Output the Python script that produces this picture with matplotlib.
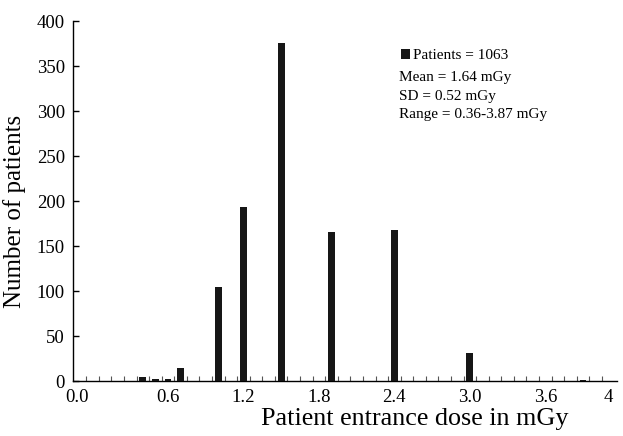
import numpy as np
import matplotlib.pyplot as plt
from matplotlib.ticker import FixedLocator

plt.rcParams['font.family'] = ['Liberation Serif', 'DejaVu Serif']

# dose bins (mGy) and patient counts
dose = [0.4, 0.5, 0.6, 0.7, 1.0, 1.2, 1.5, 1.9, 2.4, 3.0, 3.9]
patients = [4, 2, 2, 15, 105, 193, 376, 166, 168, 31, 1]

tick_pos = [-0.12, 0.6, 1.2, 1.8, 2.4, 3.0, 3.6, 4.1]
tick_labels = ['0.0', '0.6', '1.2', '1.8', '2.4', '3.0', '3.6', '4']
y_ticks = [0, 50, 100, 150, 200, 250, 300, 350, 400]

stats = ['Mean = 1.64 mGy', 'SD = 0.52 mGy', 'Range = 0.36-3.87 mGy']

fig = plt.figure(figsize=(6.23, 4.36), dpi=100)
ax = fig.add_axes([0.1177, 0.1261, 0.8726, 0.8257])

ax.bar(dose, patients, width=0.055, color='#161616', label='Patients = 1063', zorder=3)

ax.set_xlim(-0.153, 4.17)
ax.set_ylim(0, 400)

ax.spines['top'].set_visible(False)
ax.spines['right'].set_visible(False)
ax.spines['left'].set_linewidth(1.0)
ax.spines['bottom'].set_linewidth(1.0)

ax.set_xticks(tick_pos)
ax.set_xticklabels(tick_labels)
ax.xaxis.set_minor_locator(FixedLocator(np.arange(-0.05, 4.1, 0.1)))
ax.tick_params(axis='x', which='major', length=0, labelsize=13.5, pad=6)
ax.tick_params(axis='x', which='minor', direction='in', length=3.5, width=0.8, color='#555555')
ax.set_yticks(y_ticks)
ax.tick_params(axis='y', direction='in', length=4, width=1.0, labelsize=13.5, pad=6)

ax.set_xlabel('Patient entrance dose in mGy', fontsize=18.8, labelpad=2)
ax.xaxis.set_label_coords(0.628, -0.075)
ax.set_ylabel('Number of patients', fontsize=18)
ax.yaxis.set_label_coords(-0.087, 0.47)

ax.legend(loc='upper left', bbox_to_anchor=(0.577, 0.96), frameon=False,
          handlelength=0.6, handleheight=0.6, handletextpad=0.2, fontsize=11)

ax.text(0.599, 0.86, '\n'.join(stats), transform=ax.transAxes, fontsize=11,
        va='top', ha='left', linespacing=1.55)

fig.savefig('out.png', dpi=100)
